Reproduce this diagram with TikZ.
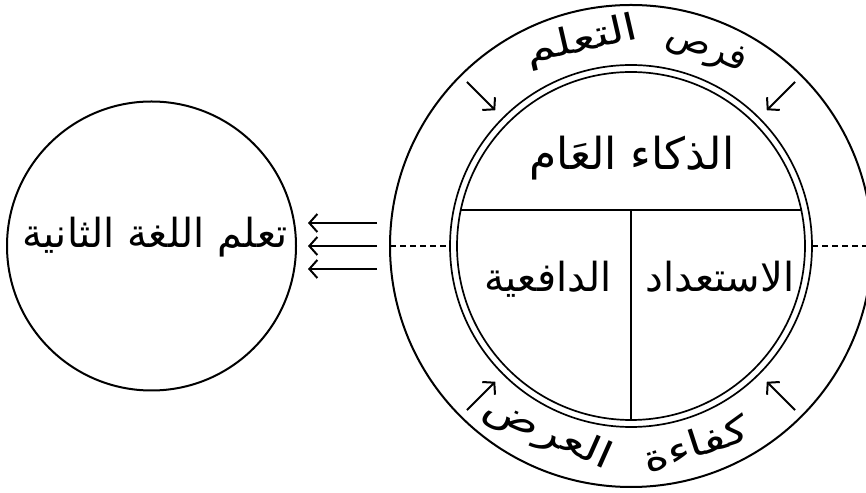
\documentclass[tikz,border=0pt]{standalone}
\usepackage{fontspec}
\usepackage{tikz}
\usetikzlibrary{arrows.meta,calc,positioning}
\TeXXeTstate=1
\newfontfamily\arabicfont[Script=Arabic]{DejaVu Sans}
\newcommand{\artxt}[1]{{\arabicfont\beginR #1\endR}}

\begin{document}
\begin{tikzpicture}[x=1pt,y=1pt,line width=2pt,>={Straight Barb[length=8pt,width=18pt]},
  big/.style={font=\fontsize{40}{48}\selectfont,inner sep=0pt,anchor=base},
  ringtxt/.style={font=\fontsize{37}{44}\selectfont,inner sep=0pt}]
\useasboundingbox (0,0) rectangle (866,492);
\clip (0,0) rectangle (866,492);
\coordinate (c) at (631,246);
% left circle
\node[draw,circle,minimum size=289pt,inner sep=0pt] (lang) at (151.5,246) {};
\node[big] (langtxt) at (155,244) {\artxt{تعلم اللغة الثانية}};
% right circles
\node[draw,circle,minimum size=482pt,inner sep=0pt] (ring) at (c) {};
\node[draw,circle,minimum size=362pt,inner sep=0pt,line width=1.7pt] (outer) at (c) {};
\node[draw,circle,minimum size=348pt,inner sep=0pt,line width=1.7pt] (inner) at (c) {};
\draw ($(c)+(168.06:174)$) -- ($(c)+(11.94:174)$);
\draw ($(c)+(0,36)$) -- ($(c)+(270:174)$);
\draw[dash pattern=on 6pt off 4pt] ($(c)+(180:241)$) -- ($(c)+(180:181)$);
\draw[dash pattern=on 6pt off 4pt] ($(c)+(0:181)$) -- ($(c)+(0:241)$);
\node[big,font=\fontsize{44}{52}\selectfont] (gen) at (632,322) {\artxt{الذكاء العَام}};
\node[big] (apt) at (720,200) {\artxt{الاستعداد}};
\node[big] (mot) at (548,200) {\artxt{الدافعية}};
% ring texts
\node[ringtxt,rotate=13,xscale=1.3] (opp) at ($(c)+(103.5:210)$) {\artxt{التعلم}};
\node[ringtxt,rotate=-22] (opp2) at ($(c)+(69:210)$) {\artxt{فرص}};
\node[ringtxt,rotate=-24,xscale=1.3] (pres) at ($(c)+(246:205)$) {\artxt{العرض}};
\node[ringtxt,rotate=18,xscale=1.3] (pres2) at ($(c)+(288:208)$) {\artxt{كفاءة}};
% arrows
\foreach \a in {45,135,225,315}
  \draw[->] ($(c)+(\a:232)$) -- ($(c)+(\a:192)$);
\foreach \dy in {23,0,-23}
  \draw[->] ($(ring.west)+(-12,\dy)$) -- ($(lang.east)+(11,\dy)$);
\end{tikzpicture}
\end{document}
